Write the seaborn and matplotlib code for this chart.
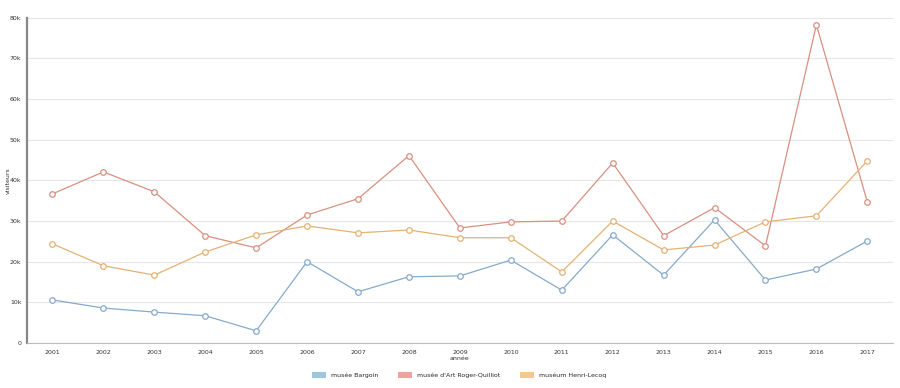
import pandas as pd
import seaborn as sns
import matplotlib.pyplot as plt
from matplotlib.patches import Patch

# visitors per year, in thousands
years = list(range(2001, 2018))
balgoin = [10.6, 8.6, 7.6, 6.7, 3.0, 20.0, 12.6, 16.3, 16.5, 20.4, 13.0, 26.6, 16.7, 30.3, 15.5, 18.2, 25.1]
roger_quilliot = [36.7, 42.1, 37.2, 26.4, 23.4, 31.5, 35.5, 46.1, 28.3, 29.8, 30.0, 44.3, 26.4, 33.3, 23.9, 78.3, 34.7]
lecoq = [24.4, 19.0, 16.7, 22.4, 26.6, 28.8, 27.1, 27.8, 25.9, 25.9, 17.5, 30.0, 22.9, 24.1, 29.8, 31.3, 44.8]
names = ["musée Bargoin", "musée d'Art Roger-Quilliot", "muséum Henri-Lecoq"]
line_colors = ["#86aacb", "#d8907f", "#e5b174"]
legend_colors = ["#9ec7de", "#f0a39c", "#f5c88f"]

df = pd.DataFrame({
    "annee": years * 3,
    "visiteurs": balgoin + roger_quilliot + lecoq,
    "musee": [names[0]] * 17 + [names[1]] * 17 + [names[2]] * 17,
})

sns.set_style("white")
plt.rcParams['font.family'] = ['DejaVu Sans']

fig = plt.figure(figsize=(9, 3.88), dpi=100)
ax = fig.add_axes([0.03, 0.116, 0.962, 0.838])

sns.lineplot(data=df, x="annee", y="visiteurs", hue="musee", palette=line_colors,
             marker="o", markersize=4, linewidth=0.9, legend=False, ax=ax)
for line, c in zip(ax.lines, line_colors):
    line.set_markerfacecolor("white")
    line.set_markeredgecolor(c)
    line.set_markeredgewidth(0.9)

ax.set_xlim(2000.5, 2017.5)
ax.set_ylim(0, 80)
ax.set_xticks(years)
ax.set_xticklabels([str(y) for y in years], fontsize=4.5, color="#333333")
ax.set_xticks([y + 0.5 for y in range(2000, 2018)], minor=True)
ax.tick_params(axis="x", which="major", length=0, pad=5)
ax.tick_params(axis="x", which="minor", length=3, color="#999999", width=0.8)

yt = list(range(0, 90, 10))
ax.set_yticks(yt)
ax.set_yticklabels(["0"] + [f"{v}k" for v in yt[1:]], fontsize=4.5, color="#333333")
ax.tick_params(axis="y", length=3, color="#888888", width=0.8, pad=1)
ax.yaxis.grid(True, color="#e6e6e6", linewidth=0.8)
ax.set_axisbelow(True)

for s in ["top", "right"]:
    ax.spines[s].set_visible(False)
ax.spines["left"].set_color("#888888")
ax.spines["left"].set_linewidth(1.6)
ax.spines["bottom"].set_color("#bbbbbb")
ax.spines["bottom"].set_linewidth(0.8)

ax.set_xlabel("année", fontsize=4.5, color="#333333", labelpad=1)
ax.set_ylabel("visiteurs", fontsize=4.5, color="#333333")
ax.yaxis.set_label_coords(-0.0185, 0.5)

handles = [Patch(facecolor=c, edgecolor="none") for c in legend_colors]
fig.legend(handles, names, loc="center", bbox_to_anchor=(0.51, 0.033), ncol=3,
           frameon=False, fontsize=4.5, handlelength=2.2, handleheight=0.9,
           columnspacing=3.2, handletextpad=0.8)

fig.savefig("out.png", dpi=100)
